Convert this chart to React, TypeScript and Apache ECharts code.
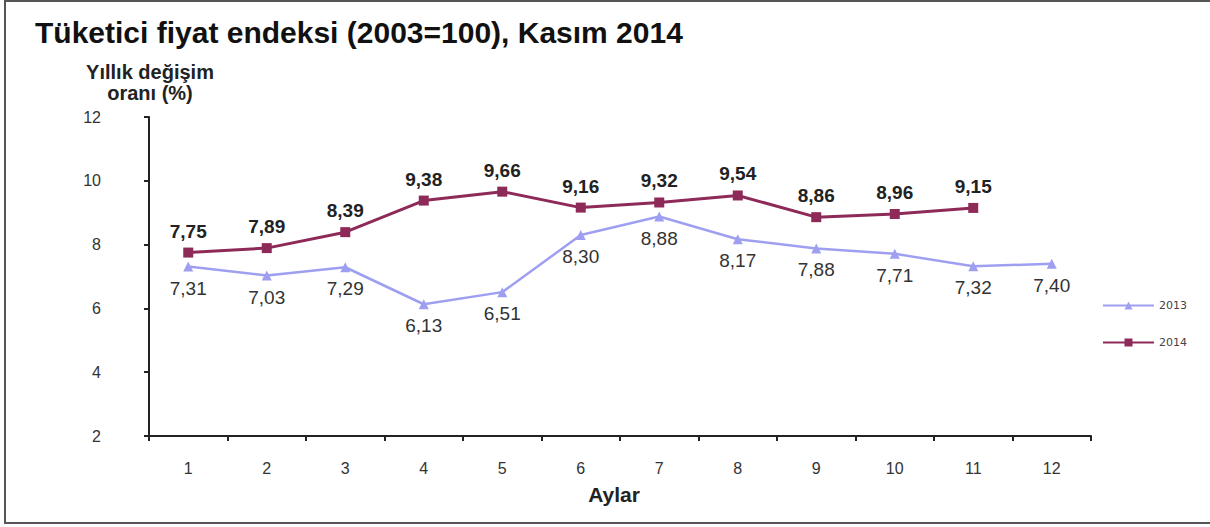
import React, { useEffect, useRef } from "react";
import * as echarts from "echarts";

const months = ["1", "2", "3", "4", "5", "6", "7", "8", "9", "10", "11", "12"];
const yTicks = [2, 4, 6, 8, 10, 12];
const series2013 = [7.31, 7.03, 7.29, 6.13, 6.51, 8.3, 8.88, 8.17, 7.88, 7.71, 7.32, 7.4];
const series2014 = [7.75, 7.89, 8.39, 9.38, 9.66, 9.16, 9.32, 9.54, 8.86, 8.96, 9.15, null];
const titleText = "Tüketici fiyat endeksi (2003=100), Kasım 2014";
const yName = "Yıllık değişim\noranı (%)";
const xName = "Aylar";

const fmt = (v: number) => v.toFixed(2).replace(".", ",");
const FONT = "'Liberation Sans', Arial, sans-serif";

export default function App() {
  const ref = useRef<HTMLDivElement>(null);
  useEffect(() => {
    if (!ref.current) return;
    const chart = echarts.init(ref.current, null, { renderer: "svg" });
    chart.setOption({
      animation: false,
      backgroundColor: "#ffffff",
      textStyle: { fontFamily: FONT },
      title: {
        text: titleText,
        left: 30,
        top: 12,
        textStyle: { fontSize: 30, fontWeight: "bold", color: "#111", fontFamily: FONT },
      },
      graphic: [
        {
          type: "rect",
          shape: { x: 5, y: 1, width: 1210, height: 522 },
          style: { fill: "none", stroke: "#555", lineWidth: 2 },
          silent: true,
        },
        {
          type: "text",
          x: 150,
          y: 61,
          style: {
            text: yName,
            textAlign: "center",
            fontSize: 20,
            fontWeight: "bold",
            fill: "#222",
            lineHeight: 21,
            fontFamily: FONT,
          },
        },
      ],
      legend: {
        orient: "vertical",
        left: 1097,
        top: 295,
        itemGap: 26,
        itemWidth: 51,
        itemHeight: 10,
        textStyle: { fontSize: 11, color: "#444", fontFamily: "'DejaVu Sans', sans-serif" },
        data: ["2013", "2014"],
      },
      grid: { left: 149, right: 119, top: 117, bottom: 91, containLabel: false },
      xAxis: {
        type: "category",
        data: months,
        boundaryGap: true,
        name: xName,
        nameLocation: "middle",
        nameGap: 48,
        nameTextStyle: {
          fontSize: 21,
          fontWeight: "bold",
          color: "#222",
          fontFamily: FONT,
          padding: [0, 12, 0, 0],
        },
        axisLine: { lineStyle: { color: "#222", width: 2 } },
        axisTick: { show: true, length: 5, lineStyle: { color: "#222", width: 2 } },
        axisLabel: { fontSize: 16, color: "#333", margin: 24, fontFamily: FONT },
        splitLine: { show: false },
      },
      yAxis: {
        type: "value",
        min: 2,
        max: 12,
        interval: 2,
        axisLine: { show: true, lineStyle: { color: "#222", width: 2 } },
        axisTick: { show: true, length: 5, lineStyle: { color: "#222", width: 2 } },
        axisLabel: {
          fontSize: 16,
          color: "#333",
          margin: 48,
          fontFamily: FONT,
          formatter: (v: number) => (yTicks.includes(v) ? String(v) : ""),
        },
        splitLine: { show: false },
      },
      series: [
        {
          name: "2013",
          type: "line",
          data: series2013,
          symbol: "triangle",
          symbolSize: 10,
          color: "#9f9ff2",
          lineStyle: { color: "#9f9ff2", width: 2.5 },
          itemStyle: { color: "#9f9ff2" },
          label: {
            show: true,
            position: "bottom",
            distance: 7,
            fontSize: 19,
            color: "#333",
            fontFamily: FONT,
            formatter: (p: any) => fmt(p.value),
          },
        },
        {
          name: "2014",
          type: "line",
          data: series2014,
          symbol: "rect",
          symbolSize: 10,
          color: "#8e2a58",
          lineStyle: { color: "#8e2a58", width: 3 },
          itemStyle: { color: "#8e2a58" },
          label: {
            show: true,
            position: "top",
            distance: 7,
            fontSize: 19,
            fontWeight: "bold",
            color: "#222",
            fontFamily: FONT,
            formatter: (p: any) => fmt(p.value),
          },
        },
      ],
    });
    return () => chart.dispose();
  }, []);
  return (
    <div
      ref={ref}
      style={{ position: "fixed", left: 0, top: 0, width: 1210, height: 527 }}
    />
  );
}
